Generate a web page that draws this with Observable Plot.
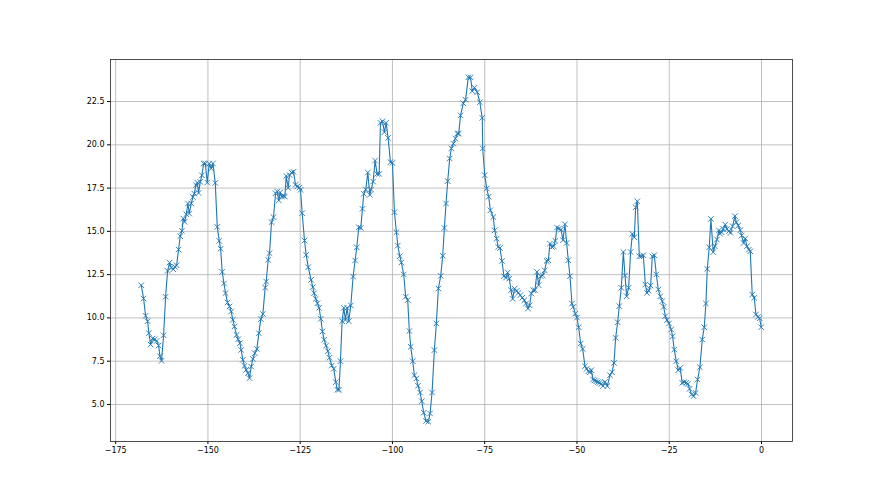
<!DOCTYPE html>
<html>
<head>
<meta charset="utf-8">
<script src="https://cdn.jsdelivr.net/npm/d3@7"></script>
<script src="https://cdn.jsdelivr.net/npm/@observablehq/plot@0.6"></script>
<style>
  html, body { margin: 0; padding: 0; background: #fff; }
  #chart svg { display: block; }
</style>
</head>
<body>
<div id="chart"></div>
<script>
const xValues = [
  -168.07,-167.43,-166.89,-166.35,-165.99,-165.54,-165.0,-164.45,-163.91,-163.37,-163.01,-162.56,-162.01,-161.47,-160.93,-160.39,-159.94,-159.39,-158.94,-158.49,-157.95,-157.5,-157.05,-156.68,-156.32,-155.87,-155.42,-155.06,-154.52,-154.07,-153.7,-153.25,-152.89,-152.53,-152.08,-151.63,-151.17,-150.72,-150.18,-149.64,-149.1,-148.64,-148.01,-147.47,-146.93,-146.57,-146.12,-145.66,
  -145.23,-144.69,-144.15,-143.7,-143.25,-142.8,-142.25,-141.8,-141.35,-140.99,-140.54,-140.09,-139.63,-139.18,-138.73,-138.28,-137.83,-137.29,-136.74,-136.2,-135.66,-135.12,-134.49,-134.21,-133.67,-133.31,-132.77,-132.23,-131.68,-131.23,-130.78,-130.42,-129.97,-129.52,-129.16,-128.79,-128.25,-127.89,-127.35,-126.81,-126.26,-125.81,-125.18,-124.91,-124.46,-123.83,-123.37,-122.83,
  -122.04,-121.59,-121.23,-120.78,-120.33,-119.87,-119.42,-118.97,-118.52,-117.98,-117.52,-117.07,-116.44,-115.9,-115.36,-114.91,-114.5,-114.09,-113.64,-113.19,-112.74,-112.29,-111.83,-111.29,-110.66,-110.12,-109.67,-109.12,-108.58,-108.13,-107.77,-107.23,-106.68,-106.14,-105.78,-105.24,-104.7,-104.16,-103.61,-103.25,-102.71,-102.17,-101.72,-101.17,-100.54,-100.0,-99.46,-98.92,-98.55,-98.01,
  -97.58,-96.95,-96.41,-95.87,-95.42,-95.05,-94.51,-94.06,-93.52,-93.07,-92.52,-92.07,-91.53,-90.9,-90.27,-89.81,-89.27,-88.64,-88.1,-87.56,-86.92,-86.38,-85.93,-85.48,-85.03,-84.49,-84.03,-83.49,-82.95,-82.41,-82.05,-81.55,-80.8,-80.2,-79.46,-78.84,-78.38,-77.76,-77.03,-76.32,-75.67,-75.54,-75.0,-74.46,-73.92,-73.46,
  -72.67,-72.31,-71.77,-71.32,-70.87,-70.33,-69.78,-69.24,-68.79,-68.34,-67.89,-67.43,-66.89,-66.35,-65.9,-65.36,-64.81,-64.27,-63.82,-63.28,-62.83,-62.38,-61.83,-61.38,-60.84,-60.39,-59.85,-59.3,-58.76,-58.22,-57.77,-57.32,-56.78,-56.32,-55.87,-55.42,-54.88,-54.34,-53.79,-53.25,-52.8,-52.35,-51.9,-51.36,-51.0,-50.45,-50.0,
  -49.55,-49.0,-48.46,-47.83,-47.38,-46.93,-46.48,-46.12,-45.66,-45.21,-44.76,-44.31,-43.86,-43.41,-42.95,-42.41,-41.78,-41.06,-40.51,-39.97,-39.52,-38.98,-38.53,-37.99,-37.44,-36.99,-36.54,-36.0,-35.46,-35.0,-34.46,-34.1,-33.65,-33.11,-32.57,-32.02,-31.48,-31.03,-30.58,-30.04,-29.58,-29.04,-28.5,-27.96,-27.42,-26.87,-26.51,-26.06,-25.61,-25.07,
  -24.46,-24.1,-23.64,-23.1,-22.56,-22.02,-21.48,-20.93,-20.39,-19.94,-19.49,-18.95,-18.41,-17.86,-17.32,-16.69,-16.06,-15.51,-15.06,-14.7,-14.16,-13.71,-13.08,-12.62,-12.08,-11.54,-11.27,-10.82,-10.37,-9.82,-9.37,-8.83,-8.38,-7.84,-7.2,-6.84,-6.3,-5.76,-5.4,-4.86,-4.4,-3.95,-3.41,-3.05,-2.51,-1.96,-1.51,-0.97,-0.52,-0.07
];
const yValues = [
  11.89,11.12,10.12,9.81,9.12,8.46,8.81,8.77,8.67,8.40,7.79,7.52,9.0,11.22,12.72,13.2,12.91,12.81,12.95,13.04,13.95,14.72,15.03,15.74,15.55,15.99,16.61,16.03,16.61,16.99,17.18,17.67,17.82,17.22,17.86,18.24,18.92,18.92,17.82,18.92,18.63,18.92,17.8,15.26,14.45,14.0,12.66,11.99,
  11.43,10.89,10.66,10.37,9.89,9.5,9.02,8.77,8.54,8.15,7.58,7.23,7.0,6.81,6.52,7.19,7.63,7.96,8.21,9.12,9.93,10.23,11.75,12.1,13.35,13.74,15.53,15.82,17.2,17.3,16.79,17.25,17.01,17.05,17.01,18.2,17.51,18.26,18.4,18.44,17.69,17.59,17.53,17.4,16.05,14.47,13.64,12.93,
  12.2,11.78,11.43,11.1,10.85,10.58,9.95,9.22,8.74,8.4,8.08,7.7,7.25,7.06,6.29,5.85,5.85,7.5,9.81,10.58,9.89,10.58,9.81,10.72,12.39,13.32,14.08,15.24,15.2,16.3,17.17,17.42,18.4,17.11,17.42,17.88,19.09,18.32,18.32,21.27,21.36,20.73,21.27,20.4,19.0,18.96,16.11,14.95,14.18,13.57,
  13.2,12.51,11.22,11.03,9.24,8.33,7.5,6.69,6.5,6.08,5.69,5.19,4.52,4.04,4.0,4.48,5.69,8.14,9.68,11.7,12.43,13.59,15.2,16.61,17.9,19.21,19.79,20.07,20.36,20.65,20.65,21.7,22.4,22.6,23.9,23.9,23.1,23.3,23.04,22.46,21.56,19.79,18.25,17.48,17.0,16.22,
  15.83,15.06,14.58,14.1,14.04,13.29,12.41,12.33,12.62,12.27,11.6,11.1,11.69,11.56,11.44,11.31,11.17,11.02,10.83,10.54,10.73,11.41,11.6,11.6,12.66,11.89,12.41,12.46,12.75,13.29,13.33,14.29,14.1,14.14,14.45,15.22,15.16,15.1,14.49,15.41,14.33,13.33,12.41,10.83,10.64,10.25,10.02,
  9.46,8.52,8.21,7.21,7.06,6.92,6.86,6.98,6.44,6.38,6.34,6.29,6.25,6.19,6.06,6.31,6.06,6.69,6.86,7.4,8.85,9.75,10.68,11.74,13.81,12.45,11.25,11.74,13.81,14.85,14.66,16.39,16.74,13.56,13.56,13.62,11.93,11.45,11.58,11.87,13.56,13.62,12.51,11.64,11.25,10.97,10.64,10.1,9.87,9.68,
  9.33,8.94,8.17,7.5,6.98,7.11,6.25,6.29,6.25,6.19,5.9,5.57,5.48,5.67,6.44,7.15,8.75,9.46,10.83,12.83,14.08,15.72,13.8,14.14,14.53,15.05,14.87,14.95,15.14,15.39,15.14,15.01,14.91,15.3,15.88,15.53,15.34,15.07,14.76,14.33,14.59,14.14,13.95,13.85,11.35,11.16,10.2,10.06,9.98,9.46
];
const xTicks = [-175, -150, -125, -100, -75, -50, -25, 0];
const yTicks = [5, 7.5, 10, 12.5, 15, 17.5, 20, 22.5];

const data = xValues.map((x, i) => ({x, y: yValues[i]}));
const blue = "#1f77b4";

const chart = Plot.plot({
  width: 880,
  height: 495,
  marginLeft: 110,
  marginRight: 88,
  marginTop: 59,
  marginBottom: 54,
  style: {background: "#fff", fontFamily: "DejaVu Sans", fontSize: "8px", color: "#000"},
  x: {domain: [-176.4, 8.4], ticks: xTicks, label: null, tickSize: 3, tickPadding: 3},
  y: {domain: [2.86, 24.93], ticks: yTicks, label: null, tickSize: 3, tickPadding: 3, tickFormat: d3.format(".1f")},
  marks: [
    Plot.gridX(xTicks, {stroke: "#b0b0b0", strokeOpacity: 1, strokeWidth: 0.8}),
    Plot.gridY(yTicks, {stroke: "#b0b0b0", strokeOpacity: 1, strokeWidth: 0.8}),
    Plot.line(data, {x: "x", y: "y", stroke: blue, strokeWidth: 1.1}),
    Plot.dot(data, {x: "x", y: "y", symbol: "times", r: 2.6, stroke: blue, strokeWidth: 0.9}),
    Plot.frame({stroke: "#222", strokeWidth: 0.8})
  ]
});
document.getElementById("chart").appendChild(chart);
</script>
</body>
</html>
